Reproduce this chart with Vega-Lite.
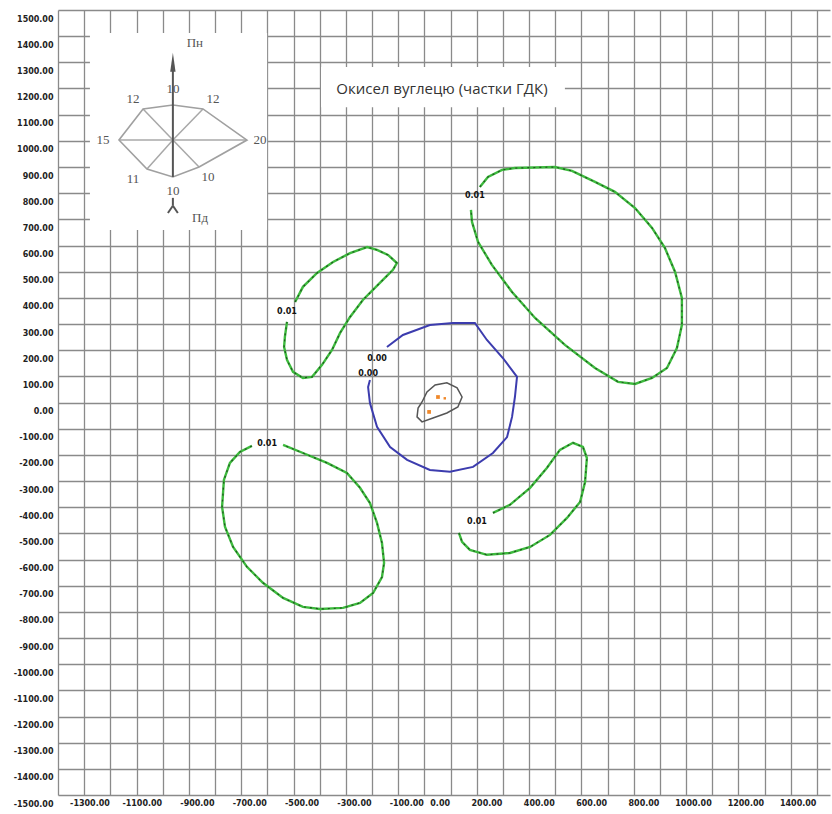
{
  "$schema": "https://vega.github.io/schema/vega-lite/v6.json",
  "width": 772,
  "height": 785,
  "autosize": {"type": "none"},
  "padding": {"left": 58, "top": 10, "right": 2, "bottom": 19},
  "background": "white",
  "config": {"view": {"stroke": null}},
  "datasets": {
    "boxes": [
      {"x": -1378, "x2": -701, "y": 659, "y2": 1412},
      {"x": -495, "x2": 437, "y": 1128, "y2": 1282}
    ],
    "spokes": [
      {"x": -1061, "y": 1003, "x2": -946, "y2": 1122},
      {"x": -1061, "y": 1003, "x2": -961, "y2": 900},
      {"x": -1061, "y": 1003, "x2": -1160, "y2": 892},
      {"x": -1061, "y": 1003, "x2": -1175, "y2": 1122},
      {"x": -1267, "y": 1003, "x2": -778, "y2": 1003}
    ],
    "roseaxis": [
      {"x": -1061, "y": 862, "x2": -1061, "y2": 1268},
      {"x": -1061, "y": 782, "x2": -1061, "y2": 752},
      {"x": -1061, "y": 752, "x2": -1080, "y2": 724},
      {"x": -1061, "y": 752, "x2": -1042, "y2": 724}
    ],
    "rosepoly": [
      {"o": 0, "x": -1061, "y": 1137},
      {"o": 1, "x": -946, "y": 1122},
      {"o": 2, "x": -778, "y": 1003},
      {"o": 3, "x": -961, "y": 900},
      {"o": 4, "x": -1061, "y": 862},
      {"o": 5, "x": -1160, "y": 892},
      {"o": 6, "x": -1267, "y": 1003},
      {"o": 7, "x": -1175, "y": 1122},
      {"o": 8, "x": -1061, "y": 1137}
    ],
    "arrow": [{"x": -1061, "y": 1300}],
    "rosetext": [
      {"x": -1061, "y": 1198, "t": "10"},
      {"x": -1213, "y": 1160, "t": "12"},
      {"x": -908, "y": 1160, "t": "12"},
      {"x": -1328, "y": 1003, "t": "15"},
      {"x": -728, "y": 1003, "t": "20"},
      {"x": -1213, "y": 854, "t": "11"},
      {"x": -927, "y": 862, "t": "10"},
      {"x": -1061, "y": 808, "t": "10"},
      {"x": -977, "y": 1374, "t": "Пн"},
      {"x": -957, "y": 705, "t": "Пд"}
    ],
    "title": [{"x": -33, "y": 1198, "t": "Окисел вуглецю (частки ГДК)"}],
    "lines": [
      {"id": "g1", "o": 0, "x": -594, "y": 384},
      {"id": "g1", "o": 1, "x": -564, "y": 442},
      {"id": "g1", "o": 2, "x": -510, "y": 495},
      {"id": "g1", "o": 3, "x": -449, "y": 537},
      {"id": "g1", "o": 4, "x": -384, "y": 571},
      {"id": "g1", "o": 5, "x": -319, "y": 594},
      {"id": "g1", "o": 6, "x": -281, "y": 583},
      {"id": "g1", "o": 7, "x": -239, "y": 564},
      {"id": "g1", "o": 8, "x": -205, "y": 533},
      {"id": "g1", "o": 9, "x": -220, "y": 507},
      {"id": "g1", "o": 10, "x": -270, "y": 457},
      {"id": "g1", "o": 11, "x": -335, "y": 392},
      {"id": "g1", "o": 12, "x": -384, "y": 327},
      {"id": "g1", "o": 13, "x": -422, "y": 266},
      {"id": "g1", "o": 14, "x": -453, "y": 201},
      {"id": "g1", "o": 15, "x": -491, "y": 144},
      {"id": "g1", "o": 16, "x": -529, "y": 98},
      {"id": "g1", "o": 17, "x": -564, "y": 94},
      {"id": "g1", "o": 18, "x": -602, "y": 117},
      {"id": "g1", "o": 19, "x": -625, "y": 163},
      {"id": "g1", "o": 20, "x": -636, "y": 212},
      {"id": "g1", "o": 21, "x": -633, "y": 251},
      {"id": "g1", "o": 22, "x": -625, "y": 308},
      {"id": "g2", "o": 0, "x": 112, "y": 824},
      {"id": "g2", "o": 1, "x": 143, "y": 862},
      {"id": "g2", "o": 2, "x": 197, "y": 889},
      {"id": "g2", "o": 3, "x": 246, "y": 896},
      {"id": "g2", "o": 4, "x": 399, "y": 900},
      {"id": "g2", "o": 5, "x": 464, "y": 885},
      {"id": "g2", "o": 6, "x": 552, "y": 843},
      {"id": "g2", "o": 7, "x": 628, "y": 805},
      {"id": "g2", "o": 8, "x": 705, "y": 743},
      {"id": "g2", "o": 9, "x": 770, "y": 667},
      {"id": "g2", "o": 10, "x": 819, "y": 591},
      {"id": "g2", "o": 11, "x": 858, "y": 499},
      {"id": "g2", "o": 12, "x": 884, "y": 400},
      {"id": "g2", "o": 13, "x": 884, "y": 296},
      {"id": "g2", "o": 14, "x": 865, "y": 208},
      {"id": "g2", "o": 15, "x": 827, "y": 132},
      {"id": "g2", "o": 16, "x": 770, "y": 94},
      {"id": "g2", "o": 17, "x": 705, "y": 71},
      {"id": "g2", "o": 18, "x": 640, "y": 79},
      {"id": "g2", "o": 19, "x": 552, "y": 132},
      {"id": "g2", "o": 20, "x": 437, "y": 220},
      {"id": "g2", "o": 21, "x": 323, "y": 323},
      {"id": "g2", "o": 22, "x": 235, "y": 422},
      {"id": "g2", "o": 23, "x": 158, "y": 526},
      {"id": "g2", "o": 24, "x": 105, "y": 614},
      {"id": "g2", "o": 25, "x": 82, "y": 690},
      {"id": "g2", "o": 26, "x": 78, "y": 736},
      {"id": "g3", "o": 0, "x": -759, "y": -166},
      {"id": "g3", "o": 1, "x": -805, "y": -189},
      {"id": "g3", "o": 2, "x": -843, "y": -231},
      {"id": "g3", "o": 3, "x": -866, "y": -296},
      {"id": "g3", "o": 4, "x": -873, "y": -399},
      {"id": "g3", "o": 5, "x": -862, "y": -475},
      {"id": "g3", "o": 6, "x": -831, "y": -552},
      {"id": "g3", "o": 7, "x": -778, "y": -628},
      {"id": "g3", "o": 8, "x": -717, "y": -689},
      {"id": "g3", "o": 9, "x": -640, "y": -747},
      {"id": "g3", "o": 10, "x": -564, "y": -781},
      {"id": "g3", "o": 11, "x": -499, "y": -789},
      {"id": "g3", "o": 12, "x": -411, "y": -785},
      {"id": "g3", "o": 13, "x": -346, "y": -766},
      {"id": "g3", "o": 14, "x": -296, "y": -728},
      {"id": "g3", "o": 15, "x": -262, "y": -667},
      {"id": "g3", "o": 16, "x": -254, "y": -613},
      {"id": "g3", "o": 17, "x": -262, "y": -537},
      {"id": "g3", "o": 18, "x": -281, "y": -460},
      {"id": "g3", "o": 19, "x": -308, "y": -384},
      {"id": "g3", "o": 20, "x": -346, "y": -326},
      {"id": "g3", "o": 21, "x": -396, "y": -269},
      {"id": "g3", "o": 22, "x": -472, "y": -231},
      {"id": "g3", "o": 23, "x": -564, "y": -193},
      {"id": "g3", "o": 24, "x": -640, "y": -162},
      {"id": "g4", "o": 0, "x": 162, "y": -422},
      {"id": "g4", "o": 1, "x": 227, "y": -391},
      {"id": "g4", "o": 2, "x": 304, "y": -326},
      {"id": "g4", "o": 3, "x": 368, "y": -250},
      {"id": "g4", "o": 4, "x": 418, "y": -181},
      {"id": "g4", "o": 5, "x": 468, "y": -154},
      {"id": "g4", "o": 6, "x": 506, "y": -170},
      {"id": "g4", "o": 7, "x": 521, "y": -212},
      {"id": "g4", "o": 8, "x": 514, "y": -304},
      {"id": "g4", "o": 9, "x": 495, "y": -380},
      {"id": "g4", "o": 10, "x": 445, "y": -441},
      {"id": "g4", "o": 11, "x": 380, "y": -506},
      {"id": "g4", "o": 12, "x": 304, "y": -552},
      {"id": "g4", "o": 13, "x": 227, "y": -575},
      {"id": "g4", "o": 14, "x": 139, "y": -582},
      {"id": "g4", "o": 15, "x": 74, "y": -563},
      {"id": "g4", "o": 16, "x": 44, "y": -533},
      {"id": "g4", "o": 17, "x": 32, "y": -498},
      {"id": "b", "o": 0, "x": -243, "y": 212},
      {"id": "b", "o": 1, "x": -182, "y": 258},
      {"id": "b", "o": 2, "x": -79, "y": 296},
      {"id": "b", "o": 3, "x": 9, "y": 304},
      {"id": "b", "o": 4, "x": 93, "y": 304},
      {"id": "b", "o": 5, "x": 139, "y": 239},
      {"id": "b", "o": 6, "x": 200, "y": 170},
      {"id": "b", "o": 7, "x": 254, "y": 98},
      {"id": "b", "o": 8, "x": 246, "y": 21},
      {"id": "b", "o": 9, "x": 235, "y": -55},
      {"id": "b", "o": 10, "x": 216, "y": -132},
      {"id": "b", "o": 11, "x": 162, "y": -193},
      {"id": "b", "o": 12, "x": 86, "y": -246},
      {"id": "b", "o": 13, "x": -2, "y": -265},
      {"id": "b", "o": 14, "x": -79, "y": -258},
      {"id": "b", "o": 15, "x": -166, "y": -219},
      {"id": "b", "o": 16, "x": -231, "y": -170},
      {"id": "b", "o": 17, "x": -281, "y": -93},
      {"id": "b", "o": 18, "x": -308, "y": -2},
      {"id": "b", "o": 19, "x": -315, "y": 59},
      {"id": "b", "o": 20, "x": -308, "y": 86},
      {"id": "k", "o": 0, "x": -109, "y": 2},
      {"id": "k", "o": 1, "x": -90, "y": 40},
      {"id": "k", "o": 2, "x": -59, "y": 67},
      {"id": "k", "o": 3, "x": -14, "y": 75},
      {"id": "k", "o": 4, "x": 25, "y": 56},
      {"id": "k", "o": 5, "x": 44, "y": 21},
      {"id": "k", "o": 6, "x": 28, "y": -17},
      {"id": "k", "o": 7, "x": -14, "y": -40},
      {"id": "k", "o": 8, "x": -67, "y": -59},
      {"id": "k", "o": 9, "x": -109, "y": -74},
      {"id": "k", "o": 10, "x": -128, "y": -55},
      {"id": "k", "o": 11, "x": -124, "y": -21},
      {"id": "k", "o": 12, "x": -109, "y": 2}
    ],
    "sources": [
      {"x": -48, "y": 21, "s": 14},
      {"x": -22, "y": 16, "s": 6},
      {"x": -82, "y": -36, "s": 14}
    ],
    "clabels": [
      {"x": -625, "y": 346, "t": "0.01"},
      {"x": 93, "y": 789, "t": "0.01"},
      {"x": -701, "y": -158, "t": "0.01"},
      {"x": 101, "y": -456, "t": "0.01"},
      {"x": -281, "y": 166, "t": "0.00"},
      {"x": -315, "y": 109, "t": "0.00"}
    ]
  },
  "encoding": {
    "x": {
      "field": "x", "type": "quantitative",
      "scale": {"domain": [-1500, 1450], "nice": false, "zero": false},
      "axis": {
        "title": null,
        "values": [-1500,-1400,-1300,-1200,-1100,-1000,-900,-800,-700,-600,-500,-400,-300,-200,-100,0,100,200,300,400,500,600,700,800,900,1000,1100,1200,1300,1400],
        "grid": true, "gridColor": "#8a8a8a", "gridWidth": 1.3, "gridOpacity": 1,
        "domain": false, "ticks": false, "tickSize": 0,
        "labelAlign": "right", "labelBaseline": "top", "labelPadding": 4, "labelOffset": -1,
        "labelFont": "DejaVu Sans", "labelFontWeight": "bold", "labelFontSize": 8, "labelColor": "#222",
        "labelOverlap": false, "labelFlush": false, "labelBound": false,
        "labelExpr": "(datum.value == 0 || (datum.value > 0 && datum.value % 200 == 0) || (datum.value < 0 && datum.value > -1400 && datum.value % 200 == -100)) ? ((datum.value < 0 ? '-' : '') + format(abs(datum.value), '.2f')) : ''"
      }
    },
    "y": {
      "field": "y", "type": "quantitative",
      "scale": {"domain": [-1500, 1500], "nice": false, "zero": false},
      "axis": {
        "title": null,
        "values": [-1500,-1400,-1300,-1200,-1100,-1000,-900,-800,-700,-600,-500,-400,-300,-200,-100,0,100,200,300,400,500,600,700,800,900,1000,1100,1200,1300,1400,1500],
        "grid": true, "gridColor": "#8a8a8a", "gridWidth": 1.3, "gridOpacity": 1,
        "domain": false, "ticks": false, "tickSize": 0,
        "labelAlign": "right", "labelBaseline": "middle", "labelPadding": 5, "labelOffset": 9,
        "labelFont": "DejaVu Sans", "labelFontWeight": "bold", "labelFontSize": 8, "labelColor": "#222",
        "labelOverlap": false, "labelFlush": false, "labelBound": false,
        "labelExpr": "(datum.value < 0 ? '-' : '') + format(abs(datum.value), '.2f')"
      }
    }
  },
  "layer": [
    {
      "data": {"name": "boxes"},
      "mark": {"type": "rect", "fill": "white", "strokeWidth": 0},
      "encoding": {"x2": {"field": "x2"}, "y2": {"field": "y2"}}
    },
    {
      "data": {"name": "spokes"},
      "mark": {"type": "rule", "color": "#a8a8a8", "strokeWidth": 1.5},
      "encoding": {"x2": {"field": "x2"}, "y2": {"field": "y2"}}
    },
    {
      "data": {"name": "rosepoly"},
      "mark": {"type": "line", "color": "#a0a0a0", "strokeWidth": 1.6},
      "encoding": {"order": {"field": "o", "type": "quantitative"}}
    },
    {
      "data": {"name": "roseaxis"},
      "mark": {"type": "rule", "color": "#555", "strokeWidth": 2},
      "encoding": {"x2": {"field": "x2"}, "y2": {"field": "y2"}}
    },
    {
      "data": {"name": "arrow"},
      "mark": {"type": "point", "shape": "M0,-1L0.28,1L-0.28,1Z", "filled": true, "color": "#555", "size": 361, "opacity": 1}
    },
    {
      "data": {"name": "rosetext"},
      "mark": {"type": "text", "font": "Liberation Serif", "fontSize": 13, "color": "#555", "align": "center", "baseline": "middle"},
      "encoding": {"text": {"field": "t"}}
    },
    {
      "data": {"name": "title"},
      "mark": {"type": "text", "font": "Open Sans", "fontSize": 15, "color": "#333", "align": "center", "baseline": "middle"},
      "encoding": {"text": {"field": "t"}}
    },
    {
      "data": {"name": "lines"},
      "transform": [{"filter": {"field": "id", "oneOf": ["g1", "g2", "g3", "g4"]}}],
      "mark": {"type": "line", "color": "#3dbb3d", "strokeWidth": 2.4},
      "encoding": {"detail": {"field": "id"}, "order": {"field": "o", "type": "quantitative"}}
    },
    {
      "data": {"name": "lines"},
      "transform": [{"filter": {"field": "id", "oneOf": ["g1", "g2", "g3", "g4"]}}],
      "mark": {"type": "line", "color": "#1a3a1a", "strokeWidth": 1.2, "strokeDash": [2, 4], "opacity": 0.8},
      "encoding": {"detail": {"field": "id"}, "order": {"field": "o", "type": "quantitative"}}
    },
    {
      "data": {"name": "lines"},
      "transform": [{"filter": {"field": "id", "equal": "b"}}],
      "mark": {"type": "line", "color": "#3c3cae", "strokeWidth": 2},
      "encoding": {"detail": {"field": "id"}, "order": {"field": "o", "type": "quantitative"}}
    },
    {
      "data": {"name": "lines"},
      "transform": [{"filter": {"field": "id", "equal": "k"}}],
      "mark": {"type": "line", "color": "#555", "strokeWidth": 1.5},
      "encoding": {"detail": {"field": "id"}, "order": {"field": "o", "type": "quantitative"}}
    },
    {
      "data": {"name": "sources"},
      "mark": {"type": "point", "filled": true, "color": "#f0882a", "opacity": 1, "shape": "square"},
      "encoding": {"size": {"field": "s", "type": "quantitative", "scale": null, "legend": null}}
    },
    {
      "data": {"name": "clabels"},
      "mark": {"type": "text", "font": "DejaVu Sans", "fontWeight": "bold", "fontSize": 8, "color": "#111", "align": "center", "baseline": "middle"},
      "encoding": {"text": {"field": "t"}}
    }
  ]
}
